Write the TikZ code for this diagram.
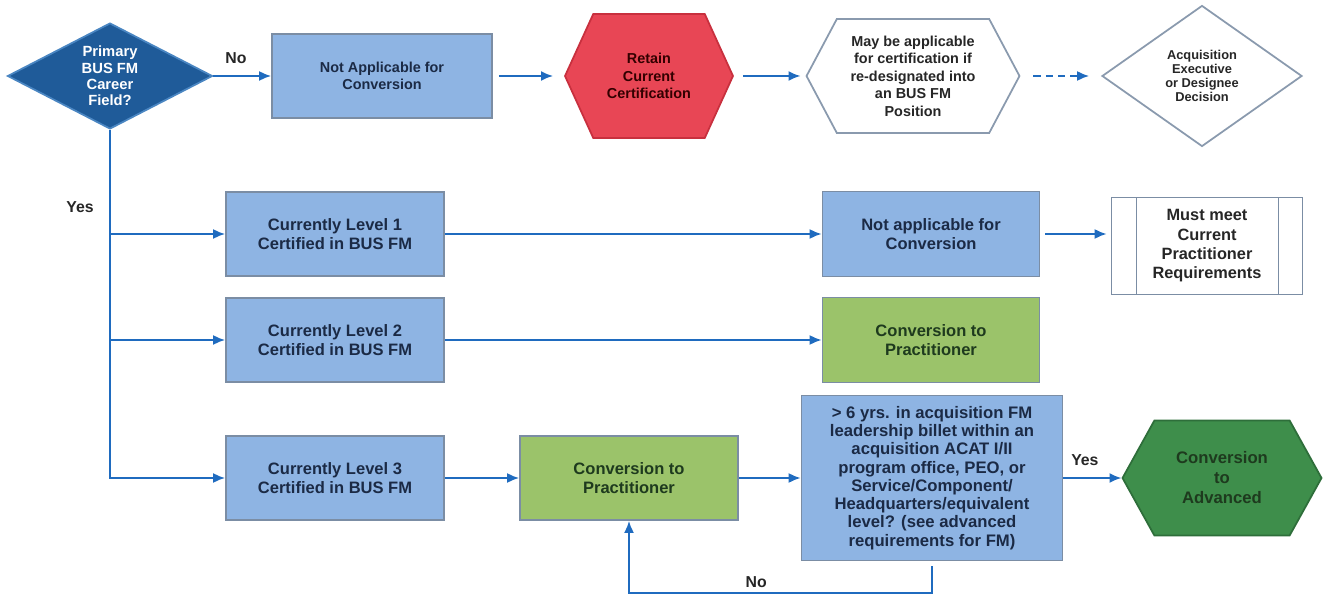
\documentclass[tikz,border=0pt]{standalone}
\usepackage{fontspec}
\setmainfont{Liberation Sans}
\usetikzlibrary{arrows.meta,shapes.geometric,shapes.symbols}
\definecolor{boxblue}{HTML}{8EB4E3}
\definecolor{boxline}{HTML}{7B8DA4}
\definecolor{qblue}{HTML}{1F5B99}
\definecolor{qline}{HTML}{4A86C2}
\definecolor{retred}{HTML}{E84655}
\definecolor{retline}{HTML}{C8303E}
\definecolor{convgreen}{HTML}{9BC36A}
\definecolor{advgreen}{HTML}{3E8E4B}
\definecolor{advline}{HTML}{2E6E3A}
\definecolor{flow}{HTML}{1F6BBF}
\definecolor{ink}{HTML}{1B2A45}
\definecolor{greenink}{HTML}{1E3A1E}
\definecolor{outline}{HTML}{8A9AAE}
\def\xLvl{335}
\def\xEnd{931}
\def\yTop{76}
\def\yOne{234}
\def\yTwo{340}
\def\yThr{478}
\tikzset{
  conn/.style={-{Latex[length=2.4mm,width=2mm]}, draw=flow, line width=1.1pt},
  lbl/.style={font=\fontsize{9}{10}\selectfont\bfseries, text=black!85, inner sep=1pt},
  fbox/.style={draw=boxline, line width=1pt, fill=boxblue, text=ink, align=center, inner sep=2pt,
    font=\fontsize{9.4}{11}\selectfont\bfseries, minimum width=4.36cm, minimum height=1.68cm},
  convbox/.style={fbox, fill=convgreen, text=greenink},
  qdiam/.style={diamond, draw=qline, line width=1pt, fill=qblue, text=white, align=center, inner sep=0pt,
    font=\fontsize{8.4}{9.3}\selectfont\bfseries, shape aspect=1.93, minimum width=4.1cm, minimum height=2.12cm},
  hexbox/.style={signal, signal to=west and east, draw=outline, line width=1pt, fill=white, text=black!85,
    align=center, inner sep=0pt, font=\fontsize{8.2}{10}\selectfont\bfseries},
  predef/.style={fbox, fill=white, text=black!85, minimum width=3.82cm, minimum height=1.94cm,
    font=\fontsize{9.3}{11}\selectfont\bfseries,
    path picture={
      \draw[boxline, line width=1pt]
        ([xshift=0.5cm]path picture bounding box.north west) -- ([xshift=0.5cm]path picture bounding box.south west)
        ([xshift=-0.48cm]path picture bounding box.north east) -- ([xshift=-0.48cm]path picture bounding box.south east);}},
}
\begin{document}
\begin{tikzpicture}[x=0.02cm, y=-0.02cm]
  \useasboundingbox (0,0) rectangle (1328,594);

  \node[qdiam] (field) at (110,\yTop) {Primary\\BUS FM\\Career\\Field?};
  \node[fbox, minimum width=4.4cm, font=\fontsize{8.2}{9.8}\selectfont\bfseries] (napp) at (382,\yTop) {Not Applicable for\\Conversion};
  \node[hexbox, fill=retred, draw=retline, text=black!80!red, signal pointer angle=131,
    minimum width=3.36cm, minimum height=2.48cm] (retain) at (649,\yTop) {Retain\\Current\\Certification};
  \node[hexbox, signal pointer angle=124, minimum width=4.26cm, minimum height=2.28cm] (maybe) at (913,\yTop)
    {May be applicable\\for certification if\\re-designated into\\an BUS FM\\Position};
  \node[qdiam, fill=white, draw=outline, text=black!85, shape aspect=1.42, minimum width=4cm, minimum height=2.82cm,
    font=\fontsize{7.3}{8}\selectfont\bfseries] (decide) at (1202,\yTop) {Acquisition\\Executive\\or Designee\\Decision};

  \node[fbox] (lvl1) at (\xLvl,\yOne) {Currently Level 1\\Certified in BUS FM};
  \node[fbox] (lvl2) at (\xLvl,\yTwo) {Currently Level 2\\Certified in BUS FM};
  \node[fbox] (lvl3) at (\xLvl,\yThr) {Currently Level 3\\Certified in BUS FM};
  \node[fbox, minimum width=4.34cm, minimum height=1.7cm] (nacv) at (\xEnd,\yOne) {Not applicable for\\Conversion};
  \node[predef] (must) at (1207,246) {Must meet\\Current\\Practitioner\\Requirements};
  \node[convbox, minimum width=4.34cm, minimum height=1.7cm] (prac) at (\xEnd,\yTwo) {Conversion to\\Practitioner};
  \node[convbox] (prac3) at (629,\yThr) {Conversion to\\Practitioner};
  \node[fbox, minimum width=5.22cm, minimum height=3.3cm, font=\fontsize{9.5}{10.4}\selectfont\bfseries] (billet) at (932,\yThr)
    {> 6 yrs. in acquisition FM\\leadership billet within an\\acquisition ACAT I/II\\program office, PEO, or\\Service/Component/\\Headquarters/equivalent\\level? (see advanced\\requirements for FM)};
  \node[hexbox, fill=advgreen, draw=advline, text=greenink, signal pointer angle=122,
    minimum width=3.98cm, minimum height=2.3cm, font=\fontsize{9.5}{11.4}\selectfont\bfseries] (adv) at (1222,\yThr)
    {Conversion\\to\\Advanced};
  \node[lbl] (yes) at (80,207) {Yes};

  \draw[conn] (field.east) -- node[lbl, above=0.2cm, pos=0.39] (no1) {No} (napp.west);
  \draw[conn, shorten <=0.12cm, shorten >=0.22cm] (napp.east) -- (retain.west);
  \draw[conn, shorten <=0.18cm, shorten >=0.1cm] (retain.east) -- (maybe.west);
  \draw[conn, dash pattern=on 4pt off 3pt, shorten <=0.26cm, shorten >=0.24cm] (maybe.east) -- (decide.west);

  \draw[conn] (field.south) |- (lvl3.west);
  \draw[conn] (field.south |- lvl1.west) -- (lvl1.west);
  \draw[conn] (field.south |- lvl2.west) -- (lvl2.west);
  \draw[conn] (lvl1.east) -- (nacv.west);
  \draw[conn, shorten <=0.1cm, shorten >=0.08cm] (nacv.east) -- (nacv.east -| must.west);
  \draw[conn] (lvl2.east) -- (prac.west);
  \draw[conn] (lvl3.east) -- (prac3.west);
  \draw[conn] (prac3.east) -- (billet.west);
  \draw[conn] (billet.east) -- node[lbl, above=0.2cm, pos=0.37] (yes2) {Yes} (adv.west);
  \draw[conn] ([yshift=-0.1cm]billet.south) -- ++(0,27) -| node[lbl, above=0.05cm, pos=0.29] (no2) {No} (prac3.south);
\end{tikzpicture}
\end{document}
